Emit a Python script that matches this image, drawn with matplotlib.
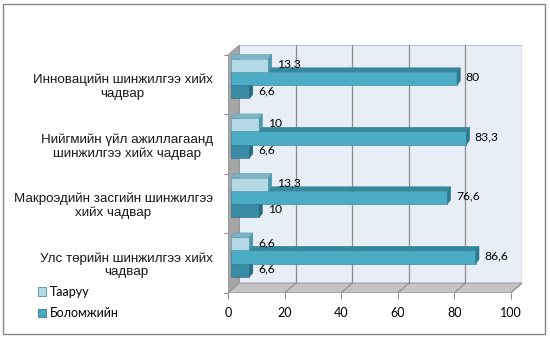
import matplotlib
matplotlib.use("Agg")
import matplotlib.pyplot as plt
from matplotlib.patches import Polygon, Rectangle, Patch

# data (bottom category first)
categories = ["Улс төрийн шинжилгээ хийх\nчадвар",
              "Макроэдийн засгийн шинжилгээ\nхийх чадвар",
              "Нийгмийн үйл ажиллагаанд\nшинжилгээ хийх чадвар",
              "Инновацийн шинжилгээ хийх\nчадвар"]
series_names = ["Тааруу", "Боломжийн"]
taaruu = [6.6, 13.3, 10, 13.3]
bolomjiin = [86.6, 76.6, 83.3, 80]
third = [6.6, 10, 6.6, 6.6]   # third series, its legend entry is cut off
xticks = [0, 20, 40, 60, 80, 100]

NUMFONT = ["Lato", "DejaVu Sans"]
TXTFONT = ["Liberation Sans", "DejaVu Sans"]

# 3d look
DX, DY = 4.0, 0.168      # wall depth
ox, oy = 1.0, 0.04       # bars sit a bit behind the front plane
bdx, bdy = 1.2, 0.07     # bar depth
h = 0.22

fig = plt.figure(figsize=(5.5, 3.38), dpi=100)
ax = fig.add_axes([228/550, 45/338, 294/550, 248/338])
ax.set_xlim(0, 100 + DX)
ax.set_ylim(0, len(categories) + DY)

# walls and floor
ytop = len(categories) + DY
ax.add_patch(Rectangle((DX, DY), 100, len(categories), fc="#E8EEF5", ec="#B0B8C0", lw=0.6, zorder=0))
ax.add_patch(Polygon([(0, 0), (DX, DY), (DX, ytop), (0, len(categories))], fc="#A6A6A6", ec="#8C8C8C", lw=0.6, zorder=1))
ax.add_patch(Polygon([(0, 0), (100, 0), (100 + DX, DY), (DX, DY)], fc="#C4C4C4", ec="#8C8C8C", lw=0.6, zorder=1))
for t in xticks[1:]:
    ax.plot([t + DX, t + DX], [DY, ytop], color="#8C8C8C", lw=0.9, zorder=1)
    ax.plot([t, t + DX], [0, DY], color="#8C8C8C", lw=0.8, zorder=1)


def fmt(v):
    return str(v).replace(".", ",")


def bar3d(ys, vals, front, top, side, z):
    bars = ax.barh(ys, vals, height=h, left=ox, color=front, edgecolor=side, linewidth=0.4, zorder=z)
    for b in bars:
        x0, y0 = b.get_x(), b.get_y()
        w, hh = b.get_width(), b.get_height()
        ax.add_patch(Polygon([(x0, y0 + hh), (x0 + bdx, y0 + hh + bdy), (x0 + w + bdx, y0 + hh + bdy), (x0 + w, y0 + hh)],
                             fc=top, ec=side, lw=0.3, zorder=z))
        ax.add_patch(Polygon([(x0 + w, y0), (x0 + w + bdx, y0 + bdy), (x0 + w + bdx, y0 + hh + bdy), (x0 + w, y0 + hh)],
                             fc=side, ec=side, lw=0.3, zorder=z))
    for y, v in zip(ys, vals):
        ax.text(v + ox + 3.0, y + 0.02, fmt(v), va="center", ha="left", fontsize=8.7, family=NUMFONT, zorder=10)


centers = [i + 0.5 for i in range(len(categories))]
bar3d([c - 0.16 + oy for c in centers], third, "#3A8CA6", "#2E7A91", "#266A7F", 3)
bar3d([c + 0.065 + oy for c in centers], bolomjiin, "#4BACC6", "#34899F", "#2B7A90", 4)
bar3d([c + 0.29 + oy for c in centers], taaruu, "#B3D9E5", "#7FB5C6", "#4E97AC", 5)

# axes
for s in ax.spines.values():
    s.set_visible(False)
ax.set_xticks(xticks)
ax.set_xticklabels([str(t) for t in xticks], fontsize=9, family=NUMFONT)
ax.tick_params(axis="x", length=4, color="#8C8C8C", pad=6)
ax.set_yticks(range(len(categories) + 1))
ax.set_yticklabels([])
ax.tick_params(axis="y", which="major", length=3, color="#8C8C8C")
ax.set_yticks(centers, minor=True)
ax.set_yticklabels(categories, minor=True, fontsize=9.6, family=TXTFONT, multialignment="center",
                   linespacing=1.15, color="#1A1A1A")
ax.tick_params(axis="y", which="minor", length=0, pad=11)

handles = [Patch(fc="#B3D9E5", ec="#4E97AC", lw=0.6), Patch(fc="#4BACC6", ec="#2B7A90", lw=0.6)]
fig.legend(handles, series_names, loc="lower left", bbox_to_anchor=(0.048, 0.022), frameon=False,
           handlelength=0.7, handleheight=0.7, handletextpad=0.3, labelspacing=0.75,
           prop={"family": NUMFONT, "size": 9})

fig.add_artist(Rectangle((3/550, 4/338), 542/550, 330/338, transform=fig.transFigure,
                         fill=False, ec="#868686", lw=1))

fig.savefig("out.png", dpi=100)
